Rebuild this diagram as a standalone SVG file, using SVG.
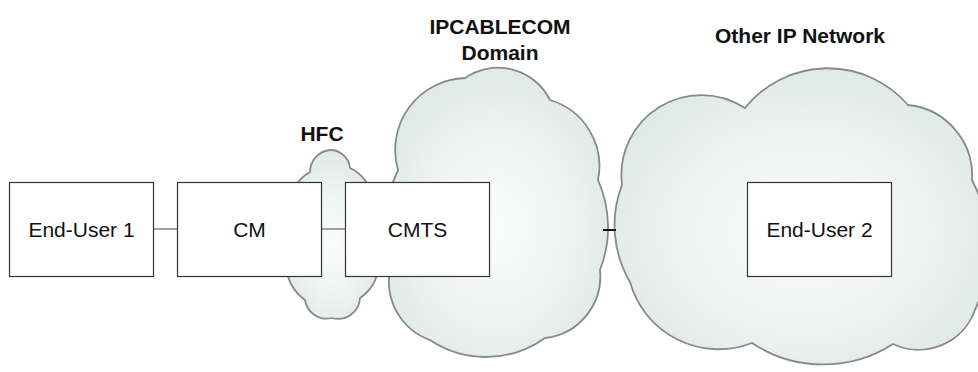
<svg xmlns="http://www.w3.org/2000/svg" width="978" height="372" viewBox="0 0 978 372">
<style>
.box{fill:#fff;stroke:#333;stroke-width:1.2}
.lbl{font-family:"Liberation Sans",Arial,sans-serif;font-size:21px;fill:#111;text-anchor:middle}
.ttl{font-family:"Liberation Sans",Arial,sans-serif;font-size:21px;font-weight:bold;fill:#111;text-anchor:middle}
.cloud{fill:url(#cg);stroke:#858b8a;stroke-width:1.8;filter:url(#soft)}
.conn{stroke:#666;stroke-width:1.2;fill:none}
</style>
<defs>
<radialGradient id="cg" cx="50%" cy="55%" r="60%">
<stop offset="0" stop-color="#fbfcfc"/>
<stop offset="0.5" stop-color="#eff4f3"/>
<stop offset="1" stop-color="#dce7e4"/>
</radialGradient>
<filter id="soft" x="-5%" y="-5%" width="110%" height="110%">
<feGaussianBlur stdDeviation="0.7"/>
</filter>
</defs>
<rect width="978" height="372" fill="#fff"/>
<g id="cloud-hfc">
<path class="cloud" d="M310,172 A22 22 0 0 1 330,150 A20 20 0 0 1 350,168 A40 40 0 0 1 362,232 A40 40 0 0 1 360,298 A22 22 0 0 1 332,318 A22 22 0 0 1 305,300 A45 45 0 0 1 299,232 A40 40 0 0 1 310,172 Z"/>
</g>
<g id="cloud-ipcablecom">
<path class="cloud" d="M465,78 A58 58 0 0 1 550,100 A69 69 0 0 1 598,180 A117 117 0 0 1 600,270 A62 62 0 0 1 545,338 A101 101 0 0 1 430,340 A62 62 0 0 1 390,270 A143 143 0 0 1 398,170 A72 72 0 0 1 465,78 Z"/>
</g>
<g id="cloud-other">
<path class="cloud" d="M622,185 A80 80 0 0 1 745,108 A106 106 0 0 1 908,105 A71 71 0 0 1 972,180 A148 148 0 0 1 975,310 A60 60 0 0 1 893,344 A129 129 0 0 1 752,343 A92 92 0 0 1 630,282 A112 112 0 0 1 622,185 Z"/>
</g>
<g id="labels">
<text class="ttl" x="322" y="141">HFC</text>
<text class="ttl" x="500" y="34">IPCABLECOM</text>
<text class="ttl" x="500" y="60">Domain</text>
<text class="ttl" x="800" y="43">Other IP Network</text>
</g>
<g id="connectors">
<line class="conn" x1="154" y1="229" x2="177" y2="229"/>
<line class="conn" x1="322" y1="229" x2="345" y2="229"/>
<line x1="603" y1="230" x2="616" y2="230" stroke="#111" stroke-width="2"/>
</g>
<g id="end-user-1">
<rect class="box" x="9.5" y="182.5" width="144" height="94"/>
<text class="lbl" x="81.5" y="237">End-User 1</text>
</g>
<g id="cm">
<rect class="box" x="177.5" y="182.5" width="144" height="94"/>
<text class="lbl" x="249.5" y="237">CM</text>
</g>
<g id="cmts">
<rect class="box" x="345.5" y="182.5" width="144" height="94"/>
<text class="lbl" x="417.5" y="237">CMTS</text>
</g>
<g id="end-user-2">
<rect class="box" x="747.5" y="182.5" width="144" height="94"/>
<text class="lbl" x="819.5" y="237">End-User 2</text>
</g>
</svg>
